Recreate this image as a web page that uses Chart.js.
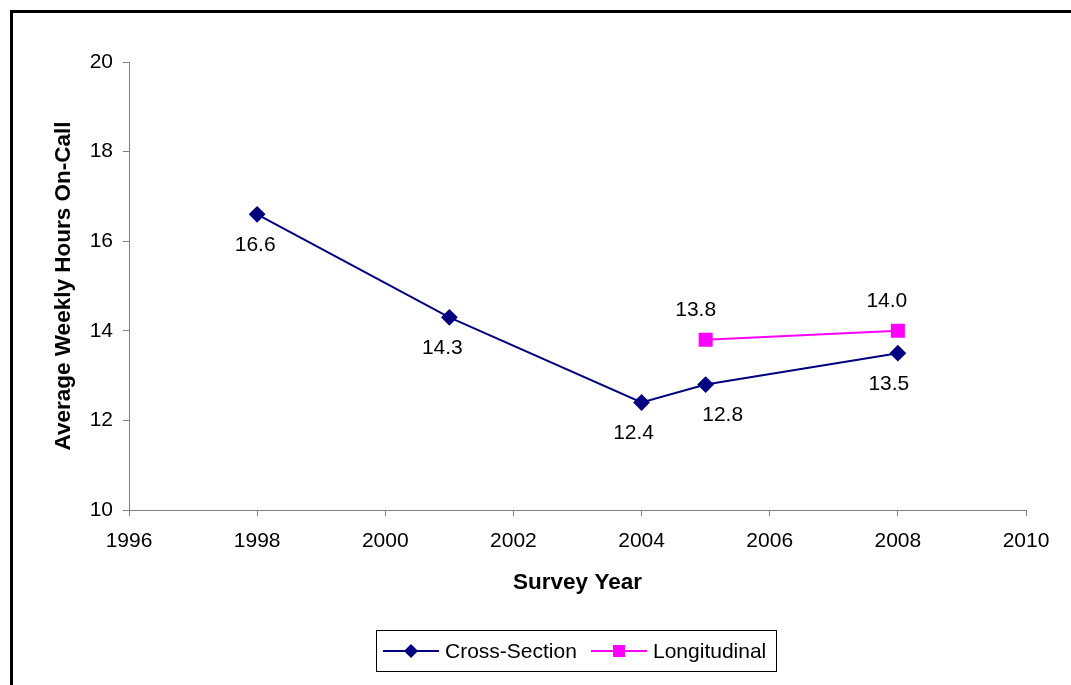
<!DOCTYPE html>
<html>
<head>
<meta charset="utf-8">
<script src="https://cdn.jsdelivr.net/npm/chart.js@4/dist/chart.umd.min.js"></script>
<style>
  html, body { margin: 0; padding: 0; background: #fff; }
  #wrap { width: 1071px; height: 685px; position: relative; }
</style>
</head>
<body>
<div id="wrap"><canvas id="c" width="1071" height="685"></canvas></div>
<script>
// Survey years and average weekly on-call hours
const crossYears = [1998, 2001, 2004, 2005, 2008];
const crossHours = [16.6, 14.3, 12.4, 12.8, 13.5];
const longYears = [2005, 2008];
const longHours = [13.8, 14.0];
const seriesNames = ['Cross-Section', 'Longitudinal'];
const xTitle = 'Survey Year';
const yTitle = 'Average Weekly Hours On-Call';

const FONT = '"Liberation Sans", Arial, sans-serif';
const AXIS_GREY = '#808080';

// Value labels: side of the point and a small horizontal nudge per point
const labelPlacement = [
  { side: 'below', dx: [-2, -7, -8, 17, -9] },
  { side: 'above', dx: [-10, -11] }
];

const valueLabels = {
  id: 'valueLabels',
  afterDatasetsDraw(chart) {
    const ctx = chart.ctx;
    ctx.save();
    ctx.font = '21px ' + FONT;
    ctx.fillStyle = '#000';
    ctx.textAlign = 'center';
    ctx.textBaseline = 'middle';
    chart.data.datasets.forEach((ds, i) => {
      const meta = chart.getDatasetMeta(i);
      const place = labelPlacement[i];
      meta.data.forEach((pt, j) => {
        const v = ds.data[j].y;
        const dy = place.side === 'below' ? 31 : -30;
        ctx.fillText(v.toFixed(1), pt.x + (place.dx[j] || 0), pt.y + dy);
      });
    });
    ctx.restore();
  }
};

// Outer frame drawn along the top and left of the canvas
const frame = {
  id: 'frame',
  beforeDraw(chart) {
    const ctx = chart.ctx;
    ctx.save();
    ctx.fillStyle = '#fff';
    ctx.fillRect(0, 0, chart.width, chart.height);
    ctx.fillStyle = '#000';
    ctx.fillRect(10, 10, 3, chart.height - 10);
    ctx.fillRect(10, 10, chart.width - 10, 3);
    ctx.restore();
  }
};

function drawMarker(ctx, ds, x, y) {
  ctx.fillStyle = ds.pointBackgroundColor;
  ctx.beginPath();
  if (ds.pointStyle === 'rectRot') {
    const r = ds.pointRadius;
    ctx.moveTo(x, y - r); ctx.lineTo(x + r, y);
    ctx.lineTo(x, y + r); ctx.lineTo(x - r, y);
  } else {
    const s = ds.pointRadius * Math.SQRT1_2;
    ctx.rect(x - s, y - s, 2 * s, 2 * s);
  }
  ctx.closePath();
  ctx.fill();
}

// Boxed legend: each entry is a short line with its marker, then the name
const legendBox = { x: 376.5, y: 630.5, w: 400, h: 41 };
const legendEntryX = [383, 591];

const boxedLegend = {
  id: 'boxedLegend',
  afterDraw(chart) {
    const ctx = chart.ctx;
    ctx.save();
    const box = legendBox;
    ctx.strokeStyle = '#000';
    ctx.lineWidth = 1;
    ctx.strokeRect(box.x, box.y, box.w, box.h);
    ctx.font = '21px ' + FONT;
    ctx.textBaseline = 'middle';
    ctx.textAlign = 'left';
    const cy = box.y + box.h / 2;
    chart.data.datasets.forEach((ds, i) => {
      const x = legendEntryX[i];
      ctx.strokeStyle = ds.borderColor;
      ctx.lineWidth = 2;
      ctx.beginPath();
      ctx.moveTo(x, cy);
      ctx.lineTo(x + 56, cy);
      ctx.stroke();
      drawMarker(ctx, ds, x + 28, cy);
      ctx.fillStyle = '#000';
      ctx.fillText(ds.label, x + 62, cy + 1);
    });
    ctx.restore();
  }
};

const toPoints = (xs, ys) => xs.map((x, i) => ({ x, y: ys[i] }));

new Chart(document.getElementById('c'), {
  type: 'line',
  data: {
    datasets: [
      {
        label: seriesNames[0],
        data: toPoints(crossYears, crossHours),
        borderColor: '#000080',
        backgroundColor: '#000080',
        pointBackgroundColor: '#000080',
        pointBorderColor: '#000080',
        pointStyle: 'rectRot',
        pointRadius: 7,
        pointHoverRadius: 7,
        borderWidth: 2,
        tension: 0
      },
      {
        label: seriesNames[1],
        data: toPoints(longYears, longHours),
        borderColor: '#FF00FF',
        backgroundColor: '#FF00FF',
        pointBackgroundColor: '#FF00FF',
        pointBorderColor: '#FF00FF',
        pointStyle: 'rect',
        pointRadius: 8.5,
        pointHoverRadius: 8.5,
        borderWidth: 2,
        tension: 0
      }
    ]
  },
  options: {
    responsive: false,
    animation: false,
    events: [],
    layout: { padding: { left: 0, top: 62, right: 45, bottom: 0 } },
    plugins: {
      legend: { display: false },
      tooltip: { enabled: false },
      title: { display: false }
    },
    scales: {
      x: {
        type: 'linear',
        min: 1996,
        max: 2010,
        afterFit(scale) { scale.height = 175; },
        ticks: {
          stepSize: 2,
          color: '#000',
          font: { family: FONT, size: 21 },
          padding: 13,
          maxRotation: 0,
          callback: (v) => String(v)
        },
        grid: { drawOnChartArea: false, drawTicks: true, tickLength: 6, color: AXIS_GREY },
        border: { display: true, color: AXIS_GREY, width: 1 },
        title: {
          display: true,
          text: xTitle,
          color: '#000',
          font: { family: FONT, size: 22.5, weight: 'bold' },
          padding: { top: 0, bottom: 89 }
        }
      },
      y: {
        type: 'linear',
        min: 10,
        max: 20,
        afterFit(scale) { scale.width = 129; },
        ticks: {
          stepSize: 2,
          color: '#000',
          font: { family: FONT, size: 21 },
          padding: 10
        },
        grid: { drawOnChartArea: false, drawTicks: true, tickLength: 6, color: AXIS_GREY },
        border: { display: true, color: AXIS_GREY, width: 1 },
        title: {
          display: true,
          text: yTitle,
          color: '#000',
          font: { family: FONT, size: 22.5, weight: 'bold' },
          padding: { top: 50, bottom: 0 }
        }
      }
    }
  },
  plugins: [frame, valueLabels, boxedLegend]
});
</script>
</body>
</html>
